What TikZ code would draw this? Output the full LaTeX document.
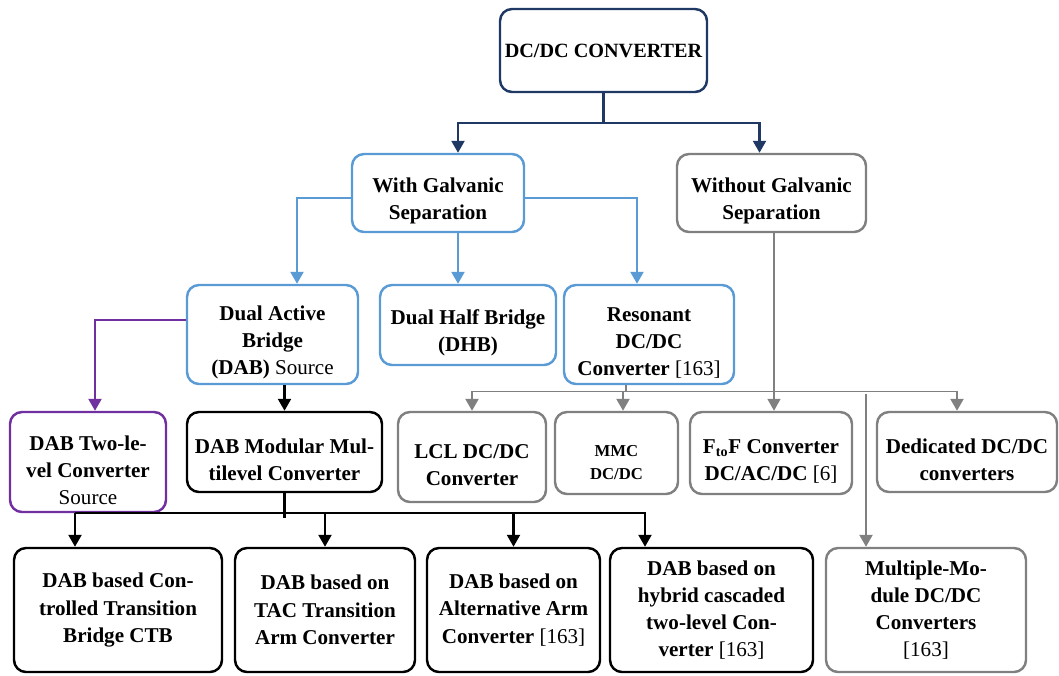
\documentclass[tikz,border=0pt]{standalone}
\usepackage{fontspec}
\setmainfont{Liberation Serif}
\usetikzlibrary{arrows.meta, positioning}

\definecolor{navy}{RGB}{31,56,100}
\definecolor{skyblue}{RGB}{91,155,213}
\definecolor{midgray}{RGB}{128,128,128}
\definecolor{dabpurple}{RGB}{112,48,160}

% extra head room above the first line of a box
\newcommand{\lift}{\rule{0pt}{17.5pt}}

\begin{document}
\begin{tikzpicture}[
		box/.style={draw, rounded corners=0.24cm, line width=1.4pt, align=center, inner sep=2pt, font=\bfseries\fontsize{12}{15.5}\selectfont},
		sz/.style 2 args={minimum width=#1cm, minimum height=#2cm},
		tip/.style={-{Triangle[length=0.24cm, width=0.26cm]}},
		link/.style={line width=1.3pt, line join=miter},
		thinlink/.style={line width=0.8pt}
	]
		\useasboundingbox (0,0) rectangle (21.18,-13.5);
		
		% Top levels
		\node[box, draw=navy, sz={4.14}{1.66}, font=\bfseries\fontsize{11.5}{15.5}\selectfont] (dcdc) at (12.07,-1.01) {DC/DC CONVERTER};
		\node[box, draw=skyblue, sz={3.44}{1.56}] (withgs) at (8.76,-3.86) {\lift With Galvanic\\Separation};
		\node[box, draw=midgray, sz={3.78}{1.56}] (withoutgs) at (15.43,-3.86) {\lift Without Galvanic\\Separation};
		
		% Galvanic separation family
		\node[box, draw=skyblue, sz={3.42}{1.98}] (dab) at (5.45,-6.69) {\lift Dual Active\\Bridge\\(DAB) {\mdseries Source}};
		\node[box, draw=skyblue, sz={3.52}{1.60}] (dhb) at (9.36,-6.50) {\lift Dual Half Bridge\\(DHB)};
		\node[box, draw=skyblue, sz={3.40}{1.98}] (reso) at (12.98,-6.69) {\lift Resonant\\DC/DC\\Converter {\mdseries [163]}};
		
		% Third row
		\node[box, draw=dabpurple, sz={3.12}{2.00}] (twolevel) at (1.76,-9.24) {\lift DAB Two-le-\\vel Converter\\{\mdseries Source}};
		\node[box, draw=black, sz={3.90}{1.60}] (modular) at (5.69,-9.04) {\lift DAB Modular Mul-\\tilevel Converter};
		\node[box, draw=midgray, sz={2.96}{1.80}] (lcl) at (9.44,-9.14) {\lift LCL DC/DC\\Converter};
		\node[box, draw=midgray, sz={2.46}{1.64}, font=\bfseries\fontsize{9.5}{13}\selectfont] (mmc) at (12.33,-9.06) {\lift MMC\\DC/DC};
		\node[box, draw=midgray, sz={3.24}{1.64}] (ftof) at (15.42,-9.06) {\lift F\textsubscript{to}F Converter\\DC/AC/DC {\mdseries [6]}};
		\node[box, draw=midgray, sz={3.60}{1.60}] (dedicated) at (19.34,-9.04) {\lift Dedicated DC/DC\\converters};
		
		% Bottom row
		\node[box, draw=black, sz={4.16}{2.48}] (ctb) at (2.36,-12.20) {DAB based Con-\\trolled Transition\\Bridge CTB};
		\node[box, draw=black, sz={3.60}{2.48}] (tac) at (6.50,-12.20) {DAB based on\\TAC Transition\\Arm Converter};
		\node[box, draw=black, sz={3.46}{2.48}] (altarm) at (10.27,-12.20) {DAB based on\\Alternative Arm\\Converter {\mdseries [163]}};
		\node[box, draw=black, sz={4.06}{2.48}] (hybrid) at (14.23,-12.20) {DAB based on\\hybrid cascaded\\two-level Con-\\verter {\mdseries [163]}};
		\node[box, draw=midgray, sz={4.00}{2.48}] (multiple) at (18.52,-12.20) {Multiple-Mo-\\dule DC/DC\\Converters\\{\mdseries [163]}};
		
		% DC/DC split
		\draw[link, navy] (dcdc.south) -- ++(0,-0.6) coordinate (split);
		\draw[link, navy, tip] (split) -| ([xshift=0.4cm]withgs.north);
		\draw[link, navy, tip] (split) -| ([xshift=-0.24cm]withoutgs.north);
		
		% With galvanic separation
		\draw[link, skyblue, tip] ([yshift=-0.1cm]withgs.west) -| ([xshift=0.49cm]dab.north);
		\draw[link, skyblue, tip] ([xshift=0.4cm]withgs.south) -- ([xshift=0.4cm]withgs.south |- dhb.north);
		\draw[link, skyblue, tip] ([yshift=-0.1cm]withgs.east) -| ([xshift=-0.24cm]reso.north);
		
		% DAB branches
		\draw[link, dabpurple, tip] ([yshift=0.29cm]dab.west) -| ([xshift=0.14cm]twolevel.north);
		\draw[link, black, tip] (modular.north |- dab.south) -- (modular.north);
		
		% Without galvanic separation
		\draw[thinlink, midgray] ([xshift=-0.46cm]reso.south) -- ++(0,-0.12) coordinate (gbus);
		\draw[thinlink, midgray] (lcl.north |- gbus) -- ([xshift=-0.2cm]dedicated.north |- gbus);
		\draw[link, midgray, tip] (lcl.north |- gbus) -- (lcl.north);
		\draw[link, midgray, tip] ([xshift=0.13cm]mmc.north |- gbus) -- ([xshift=0.13cm]mmc.north);
		\draw[link, midgray, tip] ([xshift=-0.2cm]dedicated.north |- gbus) -- ([xshift=-0.2cm]dedicated.north);
		\draw[thinlink, midgray, tip] ([xshift=0.05cm]withoutgs.south) -- ([xshift=0.05cm]withoutgs.south |- ftof.north);
		\draw[link, midgray, tip] ([xshift=-1.2cm,yshift=-0.06cm]multiple.north |- gbus) -- ([xshift=-1.2cm]multiple.north);
		
		% Modular multilevel bus
		\draw[link, black] (modular.south) -- ++(0,-0.5);
		\coordinate (mbus) at (0,-10.26);
		\draw[link, black, tip] ([xshift=-0.86cm]ctb.north |- mbus) -| ([xshift=-1.33cm]hybrid.north);
		\foreach \n in {tac, altarm}
			\draw[link, black, tip] (\n.north |- mbus) -- (\n.north);
		\draw[link, black, tip] ([xshift=-0.86cm]ctb.north |- mbus) -- ([xshift=-0.86cm]ctb.north);
		
	\end{tikzpicture}
\end{document}
